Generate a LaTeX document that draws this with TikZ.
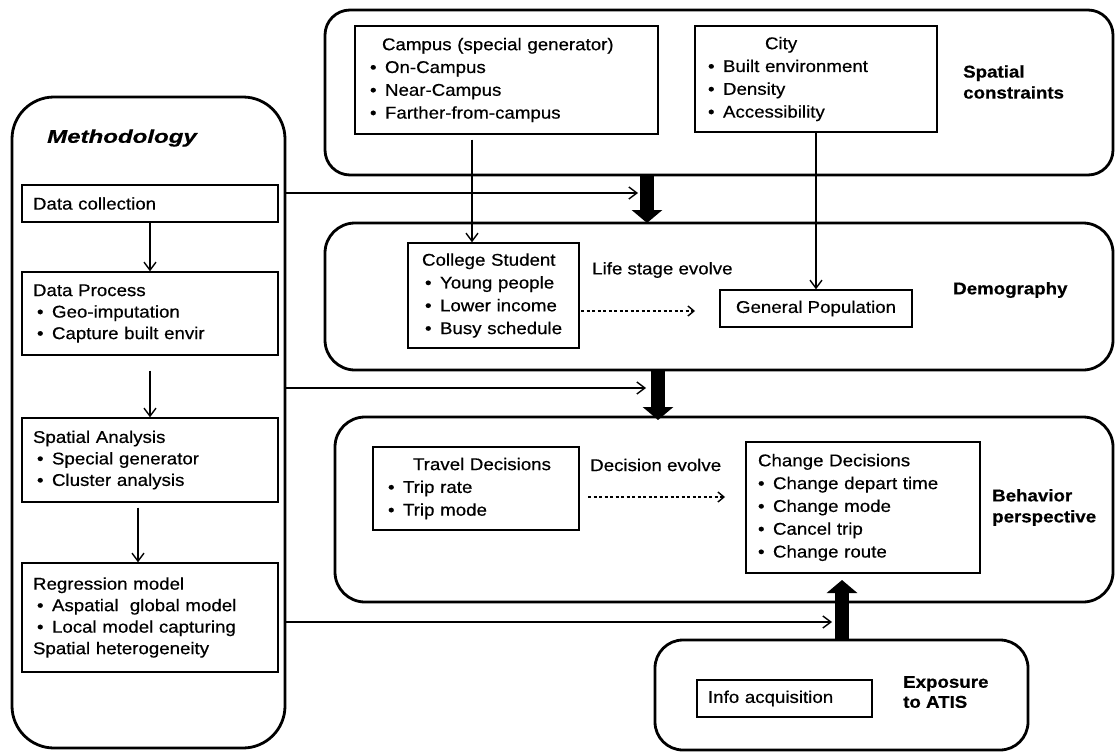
\documentclass[tikz,border=0pt]{standalone}
\usepackage{fontspec}
\setmainfont{Liberation Sans}[FakeStretch=1.1, FakeBold=0.5]
\newfontfamily\headfont{Liberation Sans}[FakeStretch=1.3, FakeBold=0.5]
\usetikzlibrary{arrows.meta}
% bullet item that never wraps
\newcommand\bl[1]{\mbox{\makebox[15pt][l]{•}#1}}
\begin{document}
\begin{tikzpicture}[x=1pt,y=-1pt]
\tikzset{
  outer/.style={draw, line width=2.8pt, inner sep=0pt},
  inbox/.style={draw, line width=1.4pt, inner ysep=0pt, align=left},
  rtext/.style={font=\fontsize{17pt}{22.8pt}\selectfont},
  ltext/.style={font=\fontsize{17pt}{21.5pt}\selectfont},
  head/.style={font=\fontsize{17pt}{21pt}\selectfont\bfseries, align=left, anchor=west, inner sep=0pt},
  plain/.style={font=\fontsize{17pt}{21pt}\selectfont, anchor=west, inner sep=0pt},
  arr/.style={line width=1.4pt, -{Straight Barb[length=8pt,width=12pt]}},
  dotarr/.style={line width=1.4pt, dash pattern=on 3pt off 2.5pt, -{Straight Barb[length=6pt,width=10pt]}},
  bigarr/.style={line width=14pt, -{Triangle[length=13pt,width=30pt]}},
}
\fill[white] (0,0) rectangle (1115,752);
\useasboundingbox (0,0) rectangle (1115,752);

% ---------- outer frames ----------
\node[outer, rounded corners=42pt, minimum width=273pt, minimum height=651pt] (meth) at (148.5,422.5) {};
\node[outer, rounded corners=25pt, minimum width=788pt, minimum height=165pt] (spat) at (719,92.5) {};
\node[outer, rounded corners=30pt, minimum width=788pt, minimum height=147pt] (demo) at (719,296.5) {};
\node[outer, rounded corners=30pt, minimum width=778pt, minimum height=185pt] (behav) at (724,509.5) {};
\node[outer, rounded corners=28pt, minimum width=373pt, minimum height=110pt] (expo) at (841.5,695) {};

% ---------- frame titles ----------
\node[font=\fontsize{18.5pt}{22pt}\headfont\bfseries\itshape, inner sep=0pt] (methT) at (122,138) {Methodology};
\node[head] (spatT) at (963,82) {Spatial\\constraints};
\node[head] (demoT) at (953,290) {Demography};
\node[head] (behavT) at (992,507.5) {Behavior\\perspective};
\node[head, font=\fontsize{17pt}{20pt}\selectfont\bfseries] (expoT) at (903,692) {Exposure\\to ATIS};

% ---------- methodology steps ----------
\node[inbox, ltext, inner xsep=11pt, text width=234pt, minimum height=37pt] (dc) at (150,203.5) {Data collection};
\node[inbox, ltext, inner xsep=11pt, text width=234pt, minimum height=83pt] (dp) at (150,313.5)
  {Data Process\\ \hspace*{4pt}\bl{Geo-imputation}\\ \hspace*{4pt}\bl{Capture built envir}};
\node[inbox, ltext, inner xsep=11pt, text width=234pt, minimum height=84pt] (sa) at (150,460)
  {Spatial Analysis\\ \hspace*{4pt}\bl{Special generator}\\ \hspace*{4pt}\bl{Cluster analysis}};
\node[inbox, ltext, inner xsep=11pt, text width=234pt, minimum height=109pt] (rm) at (150,617.5)
  {Regression model\\ \hspace*{4pt}\bl{Aspatial\ \ global model}\\ \hspace*{4pt}\bl{Local model capturing}\\ \mbox{Spatial heterogeneity}};

% ---------- spatial constraints ----------
\node[inbox, rtext, inner xsep=15pt, text width=273pt, minimum height=108pt] (campus) at (506.5,80)
  {\hspace*{12pt}\mbox{Campus (special generator)}\\ \bl{On-Campus}\\ \bl{Near-Campus}\\ \bl{Farther-from-campus}};
\node[inbox, rtext, inner xsep=13pt, text width=216pt, minimum height=106pt] (city) at (816,79)
  {\hspace*{57pt}City\\ \bl{Built environment}\\ \bl{Density}\\ \bl{Accessibility}};

% ---------- demography ----------
\node[inbox, rtext, inner xsep=14pt, text width=143pt, minimum height=105pt] (college) at (493.5,295.5)
  {\mbox{College Student}\\ \hspace*{3pt}\bl{Young people}\\ \hspace*{3pt}\bl{Lower income}\\ \hspace*{3pt}\bl{Busy schedule}};
\node[inbox, rtext, inner sep=0pt, minimum width=192pt, minimum height=37pt] (genpop) at (816,308.5) {General Population};
\node[plain] (lifeT) at (592,270) {Life stage evolve};

% ---------- behaviour ----------
\node[inbox, rtext, inner xsep=15pt, text width=176pt, minimum height=83pt] (travel) at (476,488.5)
  {\hspace*{25pt}\mbox{Travel Decisions}\\ \bl{Trip rate}\\ \bl{Trip mode}};
\node[inbox, rtext, inner xsep=12pt, text width=210pt, minimum height=131pt] (change) at (863,507.5)
  {\mbox{Change Decisions}\\ \bl{Change depart\ time}\\ \bl{Change mode}\\ \bl{Cancel trip}\\ \bl{Change route}};
\node[plain] (decT) at (590,465) {Decision evolve};

% ---------- exposure ----------
\node[inbox, rtext, inner xsep=11pt, text width=153pt, minimum height=37pt] (info) at (784.5,698.5) {Info acquisition};

% ---------- reference points ----------
\coordinate (cx) at (472,0);
\coordinate (ta) at (647,223);
\coordinate (tb) at (658,420);
\coordinate (tc) at (842,580);
\coordinate (t1) at (638,193);
\coordinate (t2) at (646,388);
\coordinate (t3) at (832,622);
\coordinate (ls0) at (581,311);
\coordinate (ls1) at (695,311);
\coordinate (de0) at (588,497);
\coordinate (de1) at (725,497);

% ---------- connectors ----------
\draw[arr] (dc.south) -- (dp.north);
\draw[arr] ([yshift=-15pt]dp.south) -- (sa.north);
\draw[arr] ([xshift=-12pt,yshift=-5pt]sa.south) -- ([xshift=-12pt]rm.north);

\draw[arr] (meth.east |- t1) -- (t1);
\draw[arr] (meth.east |- t2) -- (t2);
\draw[arr] (meth.east |- t3) -- (t3);

\draw[arr] ([yshift=-5pt]campus.south -| cx) -- (college.north -| cx);
\draw[arr] (city.south) -- (genpop.north);

\draw[dotarr] (ls0) -- (ls1);
\draw[dotarr] (de0) -- (de1);

\draw[bigarr] (spat.south -| ta) -- (ta);
\draw[bigarr] (demo.south -| tb) -- (tb);
\draw[bigarr] (expo.north -| tc) -- (tc);
\end{tikzpicture}
\end{document}
